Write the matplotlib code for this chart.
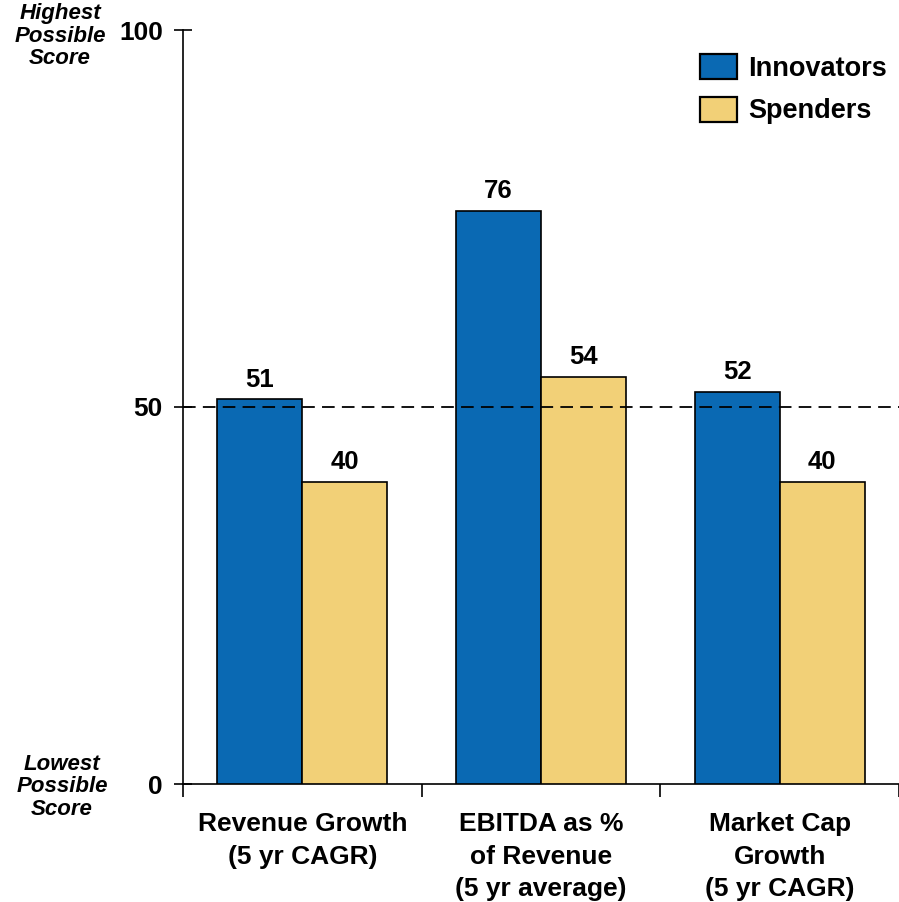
import matplotlib.pyplot as plt
import numpy as np

plt.rcParams["font.family"] = ["Liberation Sans", "DejaVu Sans"]
plt.rcParams["font.weight"] = "bold"

# --- data ---
categories = ["Revenue Growth\n(5 yr CAGR)", "EBITDA as %\nof Revenue\n(5 yr average)", "Market Cap\nGrowth\n(5 yr CAGR)"]
innovators = [51, 76, 52]
spenders = [40, 54, 40]
series_names = ["Innovators", "Spenders"]
blue = "#0A69B3"
yellow = "#F2D077"

fig = plt.figure(figsize=(8.99, 9.02), dpi=100)
ax = fig.add_axes([183 / 899, 118 / 902, 716 / 899, 754 / 902])

x = np.arange(len(categories))
w = 0.356
ax.bar(x - w / 2, innovators, w, color=blue, edgecolor="black", linewidth=1.2, label=series_names[0], zorder=3)
ax.bar(x + w / 2, spenders, w, color=yellow, edgecolor="black", linewidth=1.2, label=series_names[1], zorder=3)

for xi, v in zip(x - w / 2, innovators):
    ax.text(xi, v + 1.05, str(v), ha="center", va="bottom", fontsize=18.5, fontweight="bold")
for xi, v in zip(x + w / 2, spenders):
    ax.text(xi, v + 1.05, str(v), ha="center", va="bottom", fontsize=18.5, fontweight="bold")

# reference line at the midpoint
ax.axhline(50, color="black", linewidth=1.3, dashes=(7, 4), zorder=4)

ax.set_xlim(-0.5, 2.5)
ax.set_ylim(0, 100)
ax.set_yticks([0, 50, 100])
ax.set_yticklabels(["0", "50", "100"], fontsize=19, fontweight="bold")
ax.tick_params(axis="y", direction="inout", length=13, width=1.2, pad=8)

# ticks between the groups, labels centred under each group
ax.set_xticks([-0.5, 0.5, 1.5, 2.5])
ax.set_xticklabels([])
ax.tick_params(axis="x", direction="out", length=9, width=1.2)
for xi, lab in zip(x, categories):
    ax.annotate(lab, (xi, 0), xytext=(0, -28), textcoords="offset pixels",
                ha="center", va="top", fontsize=19, fontweight="bold", linespacing=1.45)

for s in ["top", "right"]:
    ax.spines[s].set_visible(False)
ax.spines["left"].set_linewidth(1.2)
ax.spines["bottom"].set_linewidth(1.2)

leg = ax.legend(loc="upper left", bbox_to_anchor=((700 - 183) / 716, (784 - 54) / 754),
                frameon=False, fontsize=19.5, borderpad=0, borderaxespad=0,
                handlelength=1.37, handleheight=1.05, handletextpad=0.4, labelspacing=0.55)
for t in leg.get_texts():
    t.set_fontweight("bold")
for p in leg.get_patches():
    p.set_linewidth(1.6)

fig.text(60 / 899, 1 - 36 / 902, "Highest\nPossible\nScore", ha="center", va="center",
         fontsize=16, fontweight="bold", style="italic", linespacing=1.08)
fig.text(62 / 899, 1 - 787 / 902, "Lowest\nPossible\nScore", ha="center", va="center",
         fontsize=16, fontweight="bold", style="italic", linespacing=1.08)

fig.savefig("out.png", dpi=100)
